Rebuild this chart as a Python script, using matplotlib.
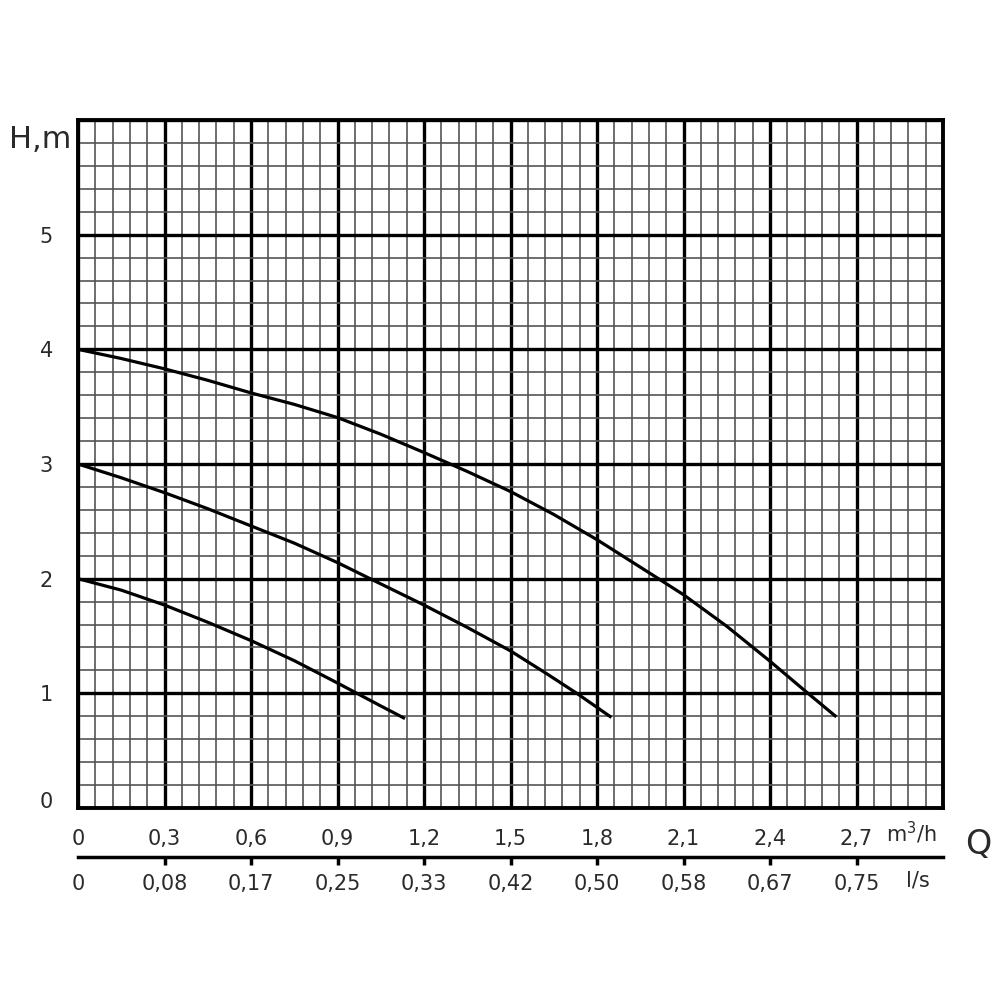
import numpy as np
import matplotlib
matplotlib.use('Agg')
import matplotlib.pyplot as plt
from matplotlib.ticker import MultipleLocator
import matplotlib.transforms as mtransforms

# pump curves: Q in m3/h, H in m
q_low = [0.0, 0.15, 0.3, 0.45, 0.6, 0.75, 0.9, 0.96, 1.05, 1.134]
h_low = [2.0, 1.90, 1.77, 1.62, 1.46, 1.285, 1.09, 1.01, 0.89, 0.78]

q_mid = [0.0, 0.15, 0.3, 0.45, 0.6, 0.75, 0.9, 1.013, 1.2, 1.35, 1.5, 1.62, 1.73, 1.85]
h_mid = [3.0, 2.88, 2.75, 2.61, 2.46, 2.31, 2.14, 2.0, 1.77, 1.575, 1.37, 1.18, 1.0, 0.79]

q_high = [0.0, 0.15, 0.3, 0.45, 0.6, 0.75, 0.9, 1.05, 1.2, 1.35, 1.5, 1.65, 1.8, 2.013, 2.1, 2.25, 2.4, 2.527, 2.63]
h_high = [4.0, 3.92, 3.83, 3.73, 3.62, 3.52, 3.405, 3.26, 3.10, 2.935, 2.76, 2.56, 2.34, 2.0, 1.86, 1.585, 1.28, 1.01, 0.795]

q_ticks = [0, 0.3, 0.6, 0.9, 1.2, 1.5, 1.8, 2.1, 2.4, 2.7]
q_labels = ['0', '0,3', '0,6', '0,9', '1,2', '1,5', '1,8', '2,1', '2,4', '2,7']
ls_labels = ['0', '0,08', '0,17', '0,25', '0,33', '0,42', '0,50', '0,58', '0,67', '0,75']
h_ticks = [0, 1, 2, 3, 4, 5]
h_labels = ['0', '1', '2', '3', '4', '5']

q_max = 3.0
h_max = 6.0

plt.rcParams['font.family'] = ['DejaVu Sans']
txt = '#2a2a2a'

fig = plt.figure(figsize=(10, 10), dpi=100)
ax = fig.add_axes([0.078, 0.192, 0.865, 0.688])

for qs, hs in [(q_low, h_low), (q_mid, h_mid), (q_high, h_high)]:
    ax.plot(qs, hs, color='black', lw=2.3, solid_capstyle='butt',
            solid_joinstyle='round', zorder=5)

ax.set_xlim(0, q_max)
ax.set_ylim(0, h_max)

ax.set_xticks(q_ticks + [q_max])
ax.set_xticklabels(q_labels + [''])
ax.set_yticks(h_ticks + [h_max])
ax.set_yticklabels(h_labels + [''])
ax.xaxis.set_minor_locator(MultipleLocator(0.06))
ax.yaxis.set_minor_locator(MultipleLocator(0.2))

ax.grid(which='major', color='black', lw=2.4, zorder=2)
ax.grid(which='minor', color='#555555', lw=1.2, zorder=1)
ax.set_axisbelow(True)
ax.tick_params(which='both', length=0)
ax.tick_params(axis='x', pad=15, labelsize=15, labelcolor=txt)
ax.tick_params(axis='y', pad=18, labelsize=15, labelcolor=txt)
for s in ax.spines.values():
    s.set_linewidth(2.8)
    s.set_zorder(6)

# lift the "0" label on the H axis a little, like the original
lab0 = ax.get_yticklabels()[0]
lab0.set_transform(lab0.get_transform() + mtransforms.ScaledTranslation(0, 8 / 100, fig.dpi_scale_trans))

fig.text(0.040, 0.860, 'H,m', fontsize=22, color=txt, ha='center', va='center')
ax.text(2.89, -0.22, 'm$^3$/h', fontsize=15, color=txt, ha='center', va='center',
        transform=ax.transData, clip_on=False)
fig.text(0.978, 0.155, 'Q', fontsize=24, color=txt, ha='center', va='center')

# second scale in l/s
ax2 = fig.add_axes([0.078, 0.143, 0.865, 0.0001])
ax2.set_xlim(0, q_max / 3.6)
ax2.set_ylim(0, 1)
ax2.set_xticks([q / 3.6 for q in q_ticks])
ax2.set_xticklabels(ls_labels)
ax2.set_yticks([])
for k in ['top', 'left', 'right']:
    ax2.spines[k].set_visible(False)
ax2.spines['bottom'].set_linewidth(2.5)
ax2.patch.set_visible(False)
ax2.tick_params(axis='x', direction='out', length=6, width=2.5, pad=6, labelsize=15, labelcolor=txt)
ax2.xaxis.get_major_ticks()[0].tick1line.set_visible(False)
fig.text(0.918, 0.120, 'l/s', fontsize=15, color=txt, ha='center', va='center')

fig.savefig('out.png', dpi=100, facecolor='white')
